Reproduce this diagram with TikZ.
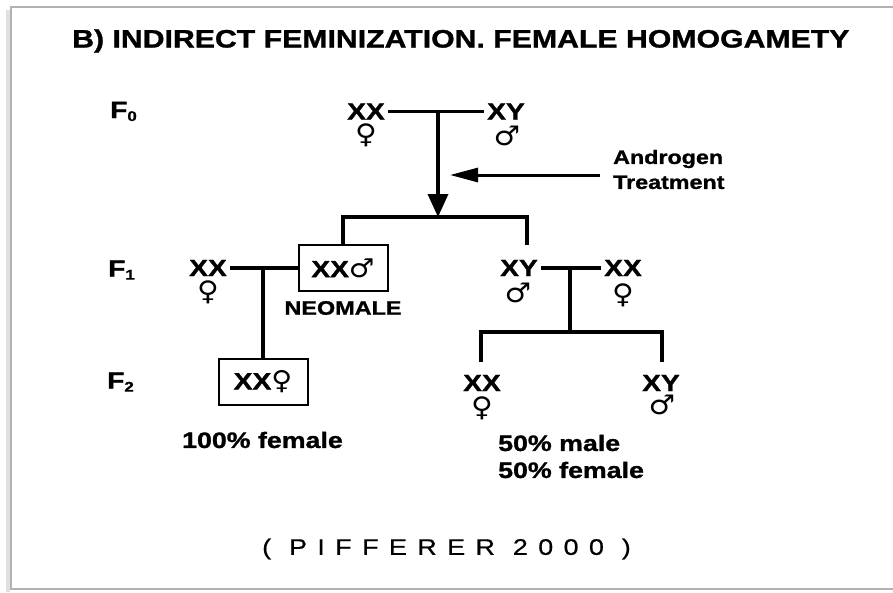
\documentclass[tikz,border=0pt]{standalone}
\usepackage{fontspec}
\setmainfont{Liberation Sans}[FakeStretch=1.2, BoldFeatures={FakeBold=1.2}]
\newfontfamily\symfont{DejaVu Sans}[FakeStretch=1.1]
\usetikzlibrary{arrows.meta}

\newcommand{\fsize}[1]{\fontsize{#1}{#1}\selectfont}
\newcommand{\gen}[1]{F{\fsize{14}\raisebox{-3pt}{#1}}}
\newcommand{\fem}{{\symfont\bfseries ♀}}
\newcommand{\mal}{{\symfont\bfseries ♂}}

\begin{document}
\begin{tikzpicture}[x=1pt, y=-1pt,
  geno/.style={font=\fsize{23.5}\bfseries, inner xsep=3pt, inner ysep=0pt},
  sexsym/.style={font=\fsize{27}, inner sep=0pt},
  gentag/.style={font=\fsize{23.5}\bfseries, inner sep=0pt, anchor=west},
  lbl/.style={font=\fontsize{22.3}{27}\selectfont\bfseries, inner sep=0pt, align=left},
  indbox/.style={draw, line width=2pt, font=\fsize{23.5}\bfseries, minimum width=89pt, minimum height=46pt, inner sep=0pt},
  link/.style={line width=3.5pt}]

\useasboundingbox (0,0) rectangle (893,592);

% Frame
\draw[black!12, line width=4pt] (8,10) -- (8,592);
\draw[black!30, line width=1.8pt] (900,7) -- (11,7) -- (11,589) -- (900,589);

% Title
\node[font=\fsize{25.2}\bfseries, inner sep=0pt, anchor=west] (title) at (72,41)
{B) INDIRECT FEMINIZATION. FEMALE HOMOGAMETY};

% Generations
\node[gentag] (g0) at (110,111.5) {\gen{0}};
\node[gentag] (g1) at (108,270) {\gen{1}};
\node[gentag] (g2) at (107,382) {\gen{2}};

% F0
\node[geno] (f0xx) at (366,111.5) {XX};
\node[sexsym] (f0fem) at (366,135) {\fem};
\node[geno] (f0xy) at (506,111.5) {XY};
\node[sexsym] (f0mal) at (507,136) {\mal};
\coordinate (f0mid) at (438,111.5);
\coordinate (f1bar) at (438,217);
\draw[link] (f0xx) -- (f0xy);
\draw[link, -{Triangle[length=23pt,width=20pt]}] (f0mid) -- (f1bar);

% Androgen
\node[lbl, font=\fontsize{19.4}{25}\selectfont\bfseries, anchor=west] (andro) at (613,169.5) {Androgen\\Treatment};
\coordinate (trstart) at (600,175);
\coordinate (trtip) at (450,175);
\draw[line width=3pt, -{Triangle[length=28pt,width=14pt]}] (trstart) -- (trtip);

% F1
\node[geno] (f1xx) at (208,268) {XX};
\node[sexsym] (f1fem) at (208,292) {\fem};
\node[indbox] (neo) at (343,268) {XX{\fsize{26}\mal}};
\node[font=\fsize{19.5}\bfseries, inner sep=0pt] (neolbl) at (343,308) {NEOMALE};
\node[geno] (f1xy) at (519,268) {XY};
\node[sexsym] (f1mal) at (518,293) {\mal};
\node[geno] (f1xx2) at (623,268) {XX};
\node[sexsym] (f1fem2) at (623,295) {\fem};
\coordinate (f1xytop) at (527,245);
\draw[link] (neo.north) |- (f1bar) -| (f1xytop);
\draw[link] (f1xx) -- (neo);
\coordinate (f1lmid) at (263,268);
\draw[link] (f1xy) -- (f1xx2);
\coordinate (f1rmid) at (570,268);
\coordinate (f2bar) at (570,332);
\draw[link] (f1rmid) -- (f2bar);

% F2
\node[indbox] (f2box) at (263,381.5) {XX{\fsize{26}\fem}};
\draw[link] (f1lmid) -- (f2box.north);
\node[geno] (f2xx) at (482,383) {XX};
\node[sexsym] (f2fem) at (482,408) {\fem};
\node[geno] (f2xy) at (661,383) {XY};
\node[sexsym] (f2mal) at (662,405) {\mal};
\coordinate (f2xxtop) at (481,362);
\coordinate (f2xytop) at (662,362);
\draw[link] (f2xxtop) |- (f2bar) -| (f2xytop);

% Ratios
\node[lbl] (ratio1) at (262.5,440) {100\% female};
\node[lbl, anchor=west] (ratio2) at (498,456.5) {50\% male\\50\% female};

% Source
\node[font=\fsize{22.5}\addfontfeatures{LetterSpace=46,FakeStretch=1.2,FakeBold=0.6}, inner sep=0pt, anchor=west] (cite) at (262,549) {( PIFFERER 2000 )};

\end{tikzpicture}
\end{document}
